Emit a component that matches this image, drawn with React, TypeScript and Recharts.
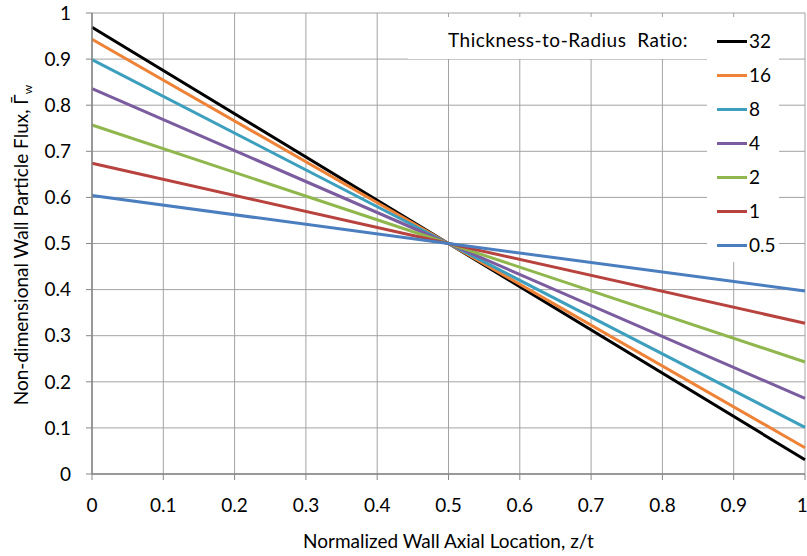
import { CartesianGrid, Legend, Line, LineChart, XAxis, YAxis } from "recharts";

const zValues = [0, 0.5, 1];

const ratio32 = [0.969, 0.5, 0.031];
const ratio16 = [0.943, 0.5, 0.057];
const ratio8 = [0.899, 0.5, 0.101];
const ratio4 = [0.836, 0.5, 0.164];
const ratio2 = [0.757, 0.5, 0.243];
const ratio1 = [0.674, 0.5, 0.327];
const ratio05 = [0.604, 0.5, 0.397];

const seriesNames = ["32", "16", "8", "4", "2", "1", "0.5"];
const seriesValues = [ratio32, ratio16, ratio8, ratio4, ratio2, ratio1, ratio05];
const seriesColors = ["#000000", "#ee8236", "#3c9fbd", "#7a5c9f", "#8fb74e", "#b7423e", "#4a7ebf"];

const axisTicks = [0, 0.1, 0.2, 0.3, 0.4, 0.5, 0.6, 0.7, 0.8, 0.9, 1];

const chartData = zValues.map((z, i) => {
  const row: Record<string, number> = { z };
  seriesNames.forEach((name, s) => {
    row[name] = seriesValues[s][i];
  });
  return row;
});

const FONT = "Lato, Calibri, sans-serif";
const tickStyle = { fontSize: 19, fill: "#000", fontFamily: FONT };

// legend keeps the series order (recharts would sort it by name)
function RatioLegend() {
  return (
    <div style={{ position: "relative", width: 371, height: 245, fontFamily: FONT, fontSize: 19, color: "#000" }}>
      <div style={{ position: "absolute", left: 0, top: 0, width: 300, height: 42, background: "#fff" }}>
        <span style={{ position: "absolute", left: 40, top: 12, whiteSpace: "pre", lineHeight: "22px", letterSpacing: 0.5 }}>
          {"Thickness-to-Radius  Ratio:"}
        </span>
      </div>
      <div style={{ position: "absolute", left: 299, top: 0, width: 72, height: 245, background: "#fff" }}>
        {seriesNames.map((name, i) => (
          <div key={name} style={{ position: "absolute", left: 10, top: 13 + i * 34, height: 22, display: "flex", alignItems: "center" }}>
            <span style={{ display: "inline-block", width: 30, height: 3, background: seriesColors[i] }} />
            <span style={{ marginLeft: 2, lineHeight: "22px" }}>{name}</span>
          </div>
        ))}
      </div>
    </div>
  );
}

function XTitle(props: any) {
  const vb = props.viewBox || { x: 92, y: 474, width: 713 };
  return (
    <text x={vb.x + vb.width / 2} y={vb.y + 74} textAnchor="middle" fontFamily={FONT} fontSize={19} fill="#000">
      Normalized Wall Axial Location, z/t
    </text>
  );
}

function YTitle() {
  return (
    <text transform="translate(28, 245) rotate(-90)" textAnchor="middle" fontFamily={FONT} fontSize={19} fill="#000">
      Non-dimensional Wall Particle Flux, Γ̄
      <tspan fontSize={12} dy={4}>w</tspan>
    </text>
  );
}

export default function App() {
  return (
    <div style={{ width: 807, height: 556, background: "#fff" }}>
      <style>{"body{margin:0}"}</style>
      <LineChart width={807} height={556} data={chartData} margin={{ top: 13, right: 2, bottom: 0, left: 0 }}>
        <CartesianGrid stroke="#a3a3a3" strokeWidth={1} />
        <XAxis
          dataKey="z"
          type="number"
          domain={[0, 1]}
          ticks={axisTicks}
          tickFormatter={(v: number) => String(v)}
          height={82}
          tickSize={6}
          tickMargin={19}
          tick={tickStyle}
          stroke="#868686"
          strokeWidth={1.5}
          tickLine={{ stroke: "#868686", strokeWidth: 1 }}
          label={<XTitle />}
        />
        <YAxis
          type="number"
          domain={[0, 1]}
          ticks={axisTicks}
          tickFormatter={(v: number) => String(v)}
          width={92}
          tickSize={6}
          tickMargin={15}
          tick={tickStyle}
          stroke="#868686"
          strokeWidth={1.5}
          tickLine={{ stroke: "#868686", strokeWidth: 1 }}
          label={<YTitle />}
        />
        <Legend
          layout="vertical"
          align="center"
          verticalAlign="middle"
          wrapperStyle={{ left: 408, top: 17, width: 371, height: 245 }}
          content={<RatioLegend />}
        />
        {seriesNames.map((name, i) => (
          <Line
            key={name}
            type="linear"
            dataKey={name}
            name={name}
            stroke={seriesColors[i]}
            strokeWidth={3}
            dot={false}
            isAnimationActive={false}
          />
        ))}
      </LineChart>
    </div>
  );
}
